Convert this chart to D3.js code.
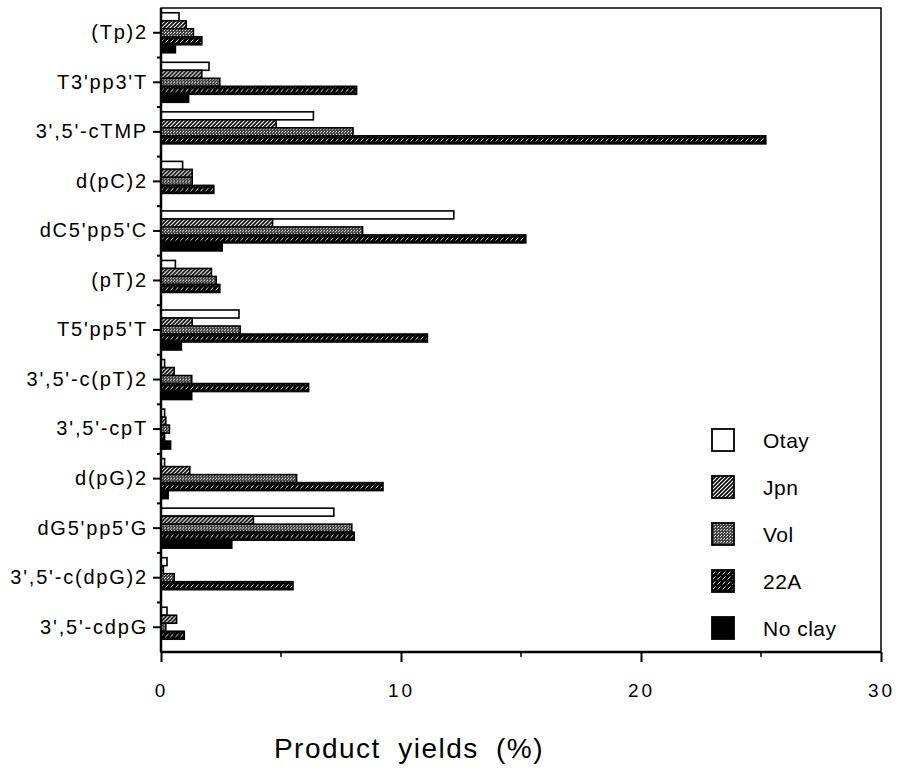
<!DOCTYPE html>
<html>
<head>
<meta charset="utf-8">
<script src="https://cdn.jsdelivr.net/npm/d3@7"></script>
<style>
  body { margin: 0; background: #fff; }
  svg { font-family: "Liberation Sans", Arial, sans-serif; }
</style>
</head>
<body>
<svg id="chart" width="898" height="770"></svg>
<script>
const categories = ["(Tp)2", "T3'pp3'T", "3',5'-cTMP", "d(pC)2", "dC5'pp5'C", "(pT)2",
  "T5'pp5'T", "3',5'-c(pT)2", "3',5'-cpT", "d(pG)2", "dG5'pp5'G", "3',5'-c(dpG)2", "3',5'-cdpG"];
const seriesNames = ["Otay", "Jpn", "Vol", "22A", "No clay"];
const otay   = [0.75, 2.0, 6.35, 0.9, 12.2, 0.6, 3.25, 0.15, 0.15, 0.15, 7.2, 0.25, 0.25];
const jpn    = [1.05, 1.7, 4.8, 1.3, 4.65, 2.1, 1.3, 0.55, 0.2, 1.2, 3.85, 0.1, 0.65];
const vol    = [1.35, 2.45, 8.0, 1.3, 8.4, 2.3, 3.3, 1.28, 0.35, 5.65, 7.95, 0.55, 0.2];
const clay22 = [1.7, 8.15, 25.2, 2.2, 15.2, 2.45, 11.1, 6.15, 0.15, 9.25, 8.05, 5.5, 0.97];
const noClay = [0.6, 1.15, 0, 0, 2.55, 0, 0.85, 1.28, 0.4, 0.3, 2.95, 0, 0];
const xTicks = [0, 10, 20, 30];

const seriesValues = [otay, jpn, vol, clay22, noClay];

function drawChart() {
  const svg = d3.select('svg#chart');
  const left = 161, right = 881, top = 8, bottom = 652;

  const defs = svg.append('defs');
  // Jpn: light diagonal hatch
  const pj = defs.append('pattern').attr('id', 'pJpn').attr('patternUnits', 'userSpaceOnUse')
    .attr('width', 4).attr('height', 4);
  pj.append('rect').attr('width', 4).attr('height', 4).attr('fill', '#fff');
  pj.append('path').attr('d', 'M-1,5 L5,-1 M-1,1 L1,-1 M3,5 L5,3').attr('stroke', '#000').attr('stroke-width', 1.6);
  // Vol: stipple
  const pv = defs.append('pattern').attr('id', 'pVol').attr('patternUnits', 'userSpaceOnUse')
    .attr('width', 3).attr('height', 3);
  pv.append('rect').attr('width', 3).attr('height', 3).attr('fill', '#444');
  pv.append('rect').attr('x', 0).attr('y', 0).attr('width', 1).attr('height', 1).attr('fill', '#fff');
  pv.append('rect').attr('x', 2).attr('y', 1).attr('width', 1).attr('height', 1).attr('fill', '#ccc');
  // 22A: dark hatch
  const p22 = defs.append('pattern').attr('id', 'p22A').attr('patternUnits', 'userSpaceOnUse')
    .attr('width', 5).attr('height', 5);
  p22.append('rect').attr('width', 5).attr('height', 5).attr('fill', '#000');
  p22.append('path').attr('d', 'M0.5,4.5 L3.5,1.5').attr('stroke', '#fff').attr('stroke-width', 0.9);

  const fills = ['#fff', 'url(#pJpn)', 'url(#pVol)', 'url(#p22A)', '#000'];

  const x = d3.scaleLinear().domain([0, 30]).range([left, right]);
  const y = d3.scaleBand().domain(categories).range([top, bottom]).paddingInner(0).paddingOuter(0);
  const ySub = d3.scaleBand().domain(seriesNames).range([y.bandwidth() / 2 - 20, y.bandwidth() / 2 + 20]);

  // bars
  const groups = svg.append('g').selectAll('g').data(categories).enter()
    .append('g')
    .attr('transform', (d) => `translate(0,${y(d)})`);

  groups.selectAll('rect')
    .data((c, i) => seriesNames.map((s, k) => ({s: s, k: k, v: seriesValues[k][i]})).filter((d) => d.v > 0))
    .enter()
    .append('rect')
    .attr('x', x(0))
    .attr('y', (d) => ySub(d.s))
    .attr('width', (d) => x(d.v) - x(0))
    .attr('height', ySub.bandwidth())
    .attr('fill', (d) => fills[d.k])
    .attr('stroke', '#000')
    .attr('stroke-width', 1.6);

  // frame
  svg.append('rect')
    .attr('x', left).attr('y', top)
    .attr('width', right - left).attr('height', bottom - top)
    .attr('fill', 'none').attr('stroke', '#000').attr('stroke-width', 1.5);
  svg.append('line').attr('x1', left).attr('x2', left).attr('y1', top).attr('y2', bottom)
    .attr('stroke', '#000').attr('stroke-width', 2.5);
  svg.append('line').attr('x1', left).attr('x2', right).attr('y1', bottom).attr('y2', bottom)
    .attr('stroke', '#000').attr('stroke-width', 2.5);

  // y axis
  const yAxis = d3.axisLeft(y).tickSize(8).tickPadding(5);
  const gy = svg.append('g').attr('transform', `translate(${left},0)`).call(yAxis);
  gy.select('.domain').remove();
  gy.selectAll('line').attr('stroke-width', 2);
  gy.selectAll('text').attr('font-size', 20).attr('letter-spacing', 1.8).attr('fill', '#000');
  // minor ticks at boundaries
  svg.append('g').selectAll('line').data(categories.slice(1)).enter()
    .append('line')
    .attr('x1', left - 4).attr('x2', left)
    .attr('y1', (d) => y(d)).attr('y2', (d) => y(d))
    .attr('stroke', '#000').attr('stroke-width', 2);

  // x axis
  const xAxis = d3.axisBottom(x).tickValues(xTicks).tickSize(10).tickPadding(22);
  const gx = svg.append('g').attr('transform', `translate(0,${bottom})`).call(xAxis);
  gx.select('.domain').remove();
  gx.selectAll('line').attr('stroke-width', 2);
  gx.selectAll('text').attr('font-size', 19).attr('fill', '#000').attr('letter-spacing', 3);
  svg.append('g').selectAll('line').data([5, 15, 25]).enter()
    .append('line')
    .attr('x1', (d) => x(d)).attr('x2', (d) => x(d))
    .attr('y1', bottom).attr('y2', bottom + 5)
    .attr('stroke', '#000').attr('stroke-width', 1.5);

  svg.append('text')
    .attr('x', 409).attr('y', 758)
    .attr('text-anchor', 'middle')
    .attr('font-size', 28)
    .attr('letter-spacing', 1.5)
    .attr('word-spacing', 8)
    .text('Product yields (%)');

  // legend
  const legend = svg.append('g').selectAll('g').data(seriesNames).enter()
    .append('g')
    .attr('transform', (d, i) => `translate(712,${429 + i * 47})`);
  legend.append('rect')
    .attr('width', 22).attr('height', 22)
    .attr('fill', (d, i) => fills[i])
    .attr('stroke', '#000').attr('stroke-width', 1.8);
  legend.append('text')
    .attr('x', 51).attr('y', 19)
    .attr('font-size', 21)
    .attr('letter-spacing', 0.5)
    .text((d) => d);
}

window.addEventListener('load', drawChart);
</script>
</body>
</html>
